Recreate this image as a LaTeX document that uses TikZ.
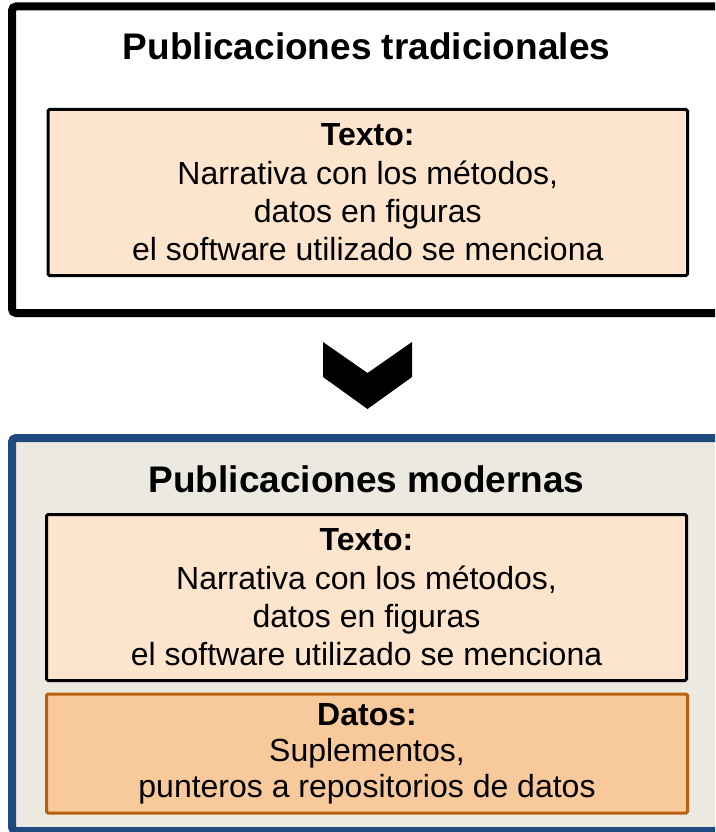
\documentclass[tikz,border=0pt]{standalone}
\usepackage{fontspec}
\setmainfont{Liberation Sans}
\definecolor{peach}{HTML}{FCE4CD}
\definecolor{datosfill}{HTML}{F7C99B}
\definecolor{datosline}{HTML}{B9600E}
\definecolor{modblue}{HTML}{1F4A7F}
\definecolor{modbg}{HTML}{ECEAE0}
\tikzset{
  outerbox/.style={draw, line width=8pt, rounded corners=4pt, inner sep=0pt, minimum width=723pt},
  innerbox/.style={draw, line width=3pt, rounded corners=1.5pt, inner sep=0pt, align=center,
    font=\fontsize{32}{38.3}\selectfont},
  titletext/.style={anchor=base, inner sep=0pt, font=\fontsize{37}{44}\selectfont\bfseries},
  chevron/.style={fill=black, draw=none}
}
\begin{document}
\begin{tikzpicture}[x=1pt,y=-1pt]
\useasboundingbox (0,0) rectangle (715,832);
\clip (0,0) rectangle (715,832);
% top container
\node[outerbox, draw=black, fill=white, minimum height=306.5pt] (trad) at (373.5,159.75) {};
\node[titletext] (tradtitle) at (366.5,60) {Publicaciones tradicionales};
\node[innerbox, draw=black, fill=peach, minimum width=639.5pt, minimum height=166pt] (texto1) at (367.75,192.5)
  {\textbf{Texto:}\\Narrativa con los métodos,\\datos en figuras\\el software utilizado se menciona};
% chevron
\coordinate (chev) at (367.5,342);
\fill[chevron] (323,342) -- (367.5,373) -- (412,342) -- (412,377) -- (367.5,409) -- (323,377) -- cycle;
% bottom container
\node[outerbox, draw=modblue, fill=modbg, minimum height=393pt] (mod) at (373.5,634.5) {};
\node[titletext] (modtitle) at (366.5,492) {Publicaciones modernas};
\node[innerbox, draw=black, fill=peach, minimum width=640pt, minimum height=166pt] (texto2) at (366.5,597.5)
  {\textbf{Texto:}\\Narrativa con los métodos,\\datos en figuras\\el software utilizado se menciona};
\node[innerbox, draw=datosline, fill=datosfill, minimum width=641pt, minimum height=119pt,
  font=\fontsize{32}{36}\selectfont] (datos) at (367,753.5)
  {\textbf{Datos:}\\Suplementos,\\punteros a repositorios de datos};
\end{tikzpicture}
\end{document}
